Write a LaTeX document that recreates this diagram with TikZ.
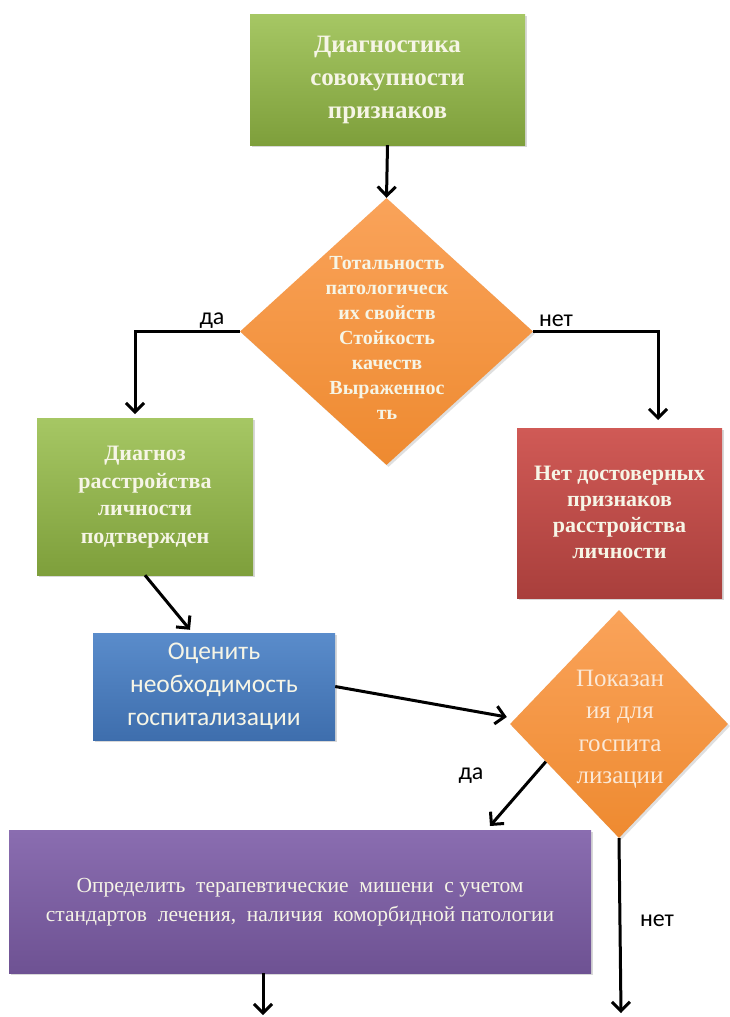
\documentclass[tikz,border=0pt]{standalone}
\usepackage{fontspec}
\setmainfont{Liberation Serif}
\newfontfamily\calfont{Carlito}
\newfontfamily\arialfont{Liberation Sans}
\usetikzlibrary{arrows.meta,shapes.geometric,shadows,calc}
\definecolor{grT}{HTML}{A6C764}
\definecolor{grB}{HTML}{7E9F3B}
\definecolor{orT}{HTML}{FAA35A}
\definecolor{orB}{HTML}{EE8A30}
\definecolor{rdT}{HTML}{D05A56}
\definecolor{rdB}{HTML}{A93F3C}
\definecolor{blT}{HTML}{5A8CCB}
\definecolor{blB}{HTML}{3E6EAD}
\definecolor{puT}{HTML}{8A6DB0}
\definecolor{puB}{HTML}{6E5293}
\definecolor{cream}{HTML}{F6F5E6}
\definecolor{peach}{HTML}{FBE8D6}
\tikzset{
  shbox/.style={rectangle, inner sep=0pt, align=center,
    drop shadow={opacity=0.3, shadow xshift=2pt, shadow yshift=-2pt}},
  gbox/.style={shbox, top color=grT, bottom color=grB},
  rbox/.style={shbox, top color=rdT, bottom color=rdB},
  bbox/.style={shbox, top color=blT, bottom color=blB},
  pbox/.style={shbox, top color=puT, bottom color=puB},
  dia/.style={diamond, inner sep=0pt, top color=orT, bottom color=orB,
    drop shadow={opacity=0.25, shadow xshift=2pt, shadow yshift=-2pt}},
  arr/.style={line width=3pt, -{Straight Barb[length=9pt,width=18pt]}},
  lbl/.style={font=\calfont\fontsize{24}{26}\selectfont, text=black}
}
\begin{document}
\begin{tikzpicture}[x=1pt,y=-1pt]
\useasboundingbox[fill=white] (0,0) rectangle (729,1017);

% nodes
\node[gbox, minimum width=275pt, minimum height=131pt] (n1) at (387.5,79.5) {};
\node[text=cream, align=center, font=\bfseries\fontsize{25}{33}\selectfont] (t1) at (n1) {Диагностика\\совокупности\\признаков};

\node[dia, minimum width=293pt, minimum height=267pt] (d1) at (386.5,331.5) {};
\node[text=cream, align=center, font=\bfseries\fontsize{20}{25}\selectfont] (t2) at (387,338) {Тотальность\\патологическ\\их свойств\\Стойкость\\качеств\\Выраженнос\\ть};

\node[gbox, minimum width=216pt, minimum height=157pt] (g2) at (145,496.5) {};
\node[text=cream, align=center, font=\bfseries\fontsize{22}{27.5}\selectfont] (t3) at (145,497) {Диагноз\\расстройства\\личности\\подтвержден};

\node[rbox, minimum width=205pt, minimum height=170pt] (r1) at (619.5,513) {};
\node[text=cream, align=center, font=\bfseries\fontsize{22}{26}\selectfont] (t4) at (619.5,512) {Нет достоверных\\признаков\\расстройства\\личности};

\node[bbox, minimum width=242pt, minimum height=107pt] (b1) at (214,686.5) {};
\node[text=cream, align=center, font=\calfont\fontsize{25.5}{33}\selectfont] (t5) at (214,686) {Оценить\\необходимость\\госпитализации};

\node[dia, minimum width=218pt, minimum height=228pt] (d2) at (619,724) {};
\node[text=peach, align=center, font=\fontsize{25}{32.5}\selectfont] (t6) at (620,729) {Показан\\ия для\\госпита\\лизации};

\node[pbox, minimum width=582pt, minimum height=143pt] (p1) at (300,901.5) {};
\node[text=cream, align=center, font=\fontsize{21.5}{29}\selectfont] (t7) at (300,902) {Определить\ \ терапевтические\ \ мишени\ \ с учетом\\стандартов\ \ лечения,\ \ наличия\ \ коморбидной патологии};

% free ends
\coordinate (e1) at (135,414);
\coordinate (e2) at (658,420);
\coordinate (e3) at (490,826);
\coordinate (e4) at (621,1013);
\coordinate (e5) at (263,1015);

% connectors
\draw[arr] (n1.south) -- (d1.north);
\draw[arr] (d1.west) -| (e1);
\draw[arr] (d1.east) -| (e2);
\draw[arr] (g2.south) -- ([xshift=-24pt,yshift=3pt]b1.north);
\draw[arr] (b1.east) -- ([xshift=-3pt,yshift=7pt]d2.west);
\draw[arr] ($(d2.west)!0.33!(d2.south)$) -- (e3);
\draw[arr] (d2.south) -- (e4);
\draw[arr] ([xshift=-37pt]p1.south) -- (e5);

% labels
\node[lbl] (l1) at (212,321) {да};
\node[lbl] (l2) at (556,321) {нет};
\node[lbl] (l3) at (471,776) {да};
\node[lbl] (l4) at (657,921) {нет};
\end{tikzpicture}
\end{document}
